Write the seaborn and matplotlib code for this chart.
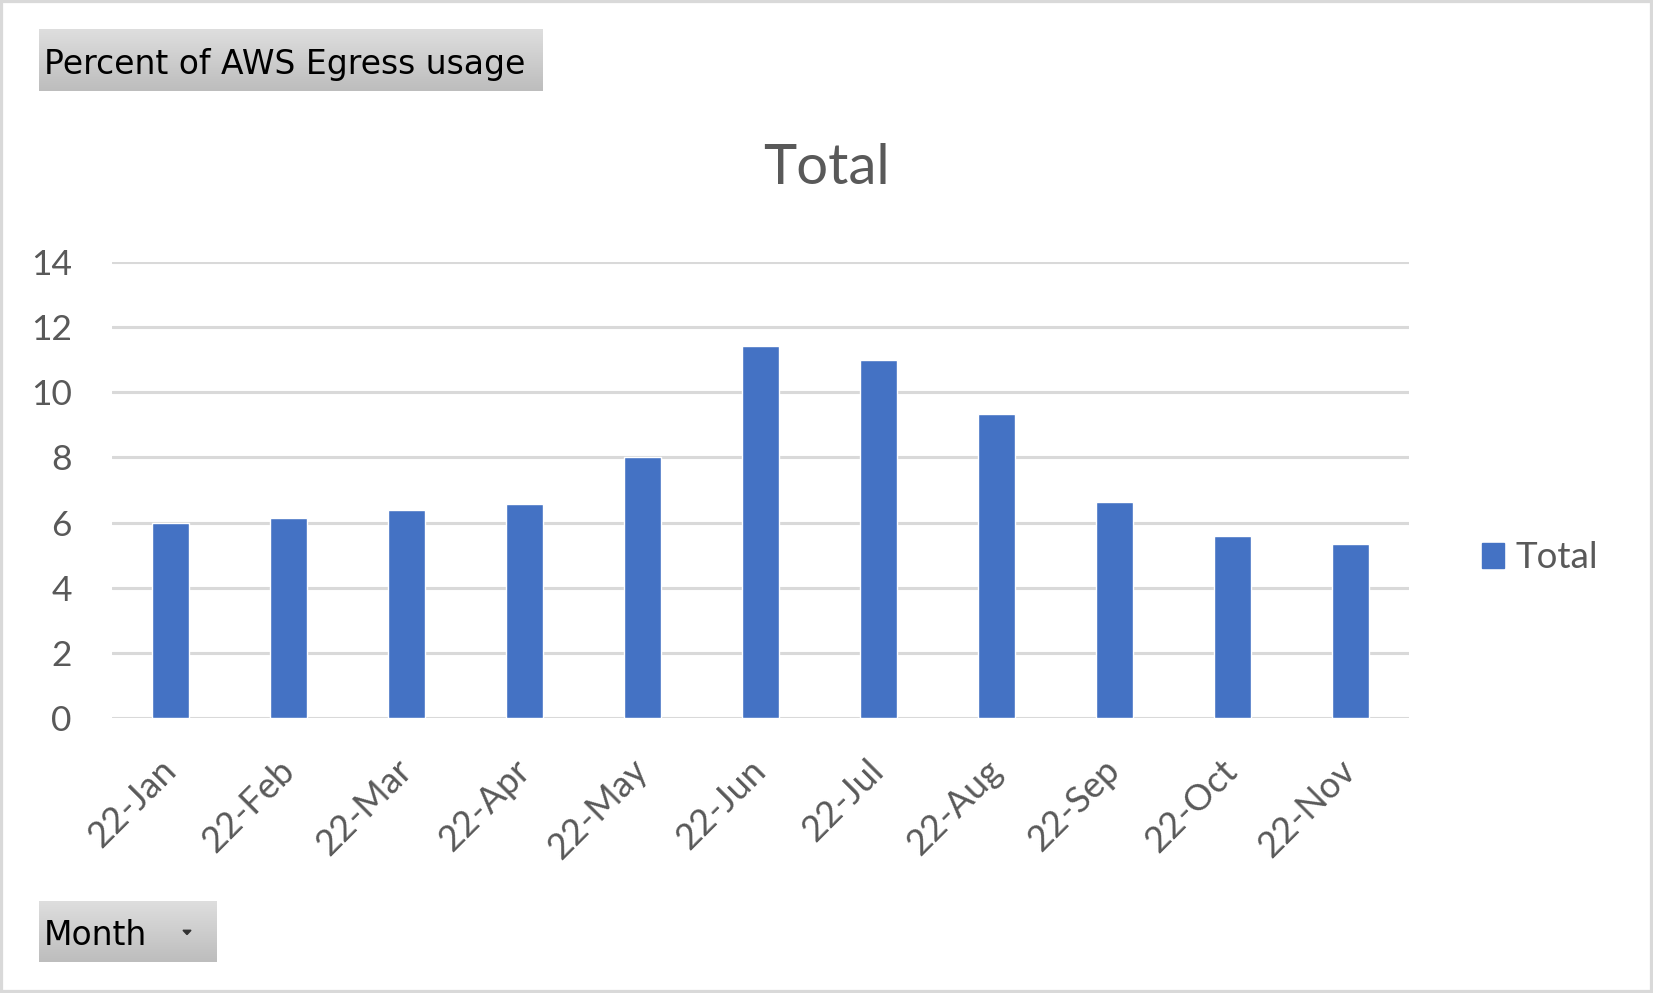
import numpy as np
import matplotlib
matplotlib.use("Agg")
import matplotlib.pyplot as plt
import seaborn as sns
from matplotlib.patches import Rectangle, Polygon

# data
months = ["22-Jan", "22-Feb", "22-Mar", "22-Apr", "22-May", "22-Jun",
          "22-Jul", "22-Aug", "22-Sep", "22-Oct", "22-Nov"]
totals = [6.0, 6.14, 6.39, 6.57, 8.02, 11.42, 10.99, 9.34, 6.63, 5.60, 5.35]
yticks = [0, 2, 4, 6, 8, 10, 12, 14]
series_name = "Total"
button_title = "Percent of AWS Egress usage"
button_field = "Month"

BAR = "#4472C4"
GRID = "#d9d9d9"
TXT = "#595959"

sns.set_theme(style="white")
plt.rcParams["font.family"] = ["Lato", "DejaVu Sans"]

W, H = 1653, 993
fig = plt.figure(figsize=(W / 100, H / 100), dpi=100)
fig.patch.set_facecolor("white")

# plot area in pixel coordinates of the reference
x0, x1, y0, y1 = 112, 1409, 262, 718
ax = fig.add_axes([x0 / W, 1 - y1 / H, (x1 - x0) / W, (y1 - y0) / H])

sns.barplot(x=months, y=totals, color=BAR, saturation=1, width=0.314,
            ax=ax, label=series_name)

ax.set_ylim(0, 14)
ax.set_yticks(yticks)
ax.yaxis.grid(True, color=GRID, linewidth=2.2)
ax.set_axisbelow(True)
for s in ax.spines.values():
    s.set_visible(False)
ax.set_xlabel("")
ax.set_ylabel("")
ax.tick_params(axis="y", length=0, pad=29, labelsize=25.5, labelcolor=TXT)
ax.tick_params(axis="x", length=0, pad=34, labelsize=26, labelcolor=TXT)
plt.setp(ax.get_xticklabels(), rotation=45, ha="right", va="center",
         rotation_mode="anchor")
if ax.get_legend() is not None:
    ax.get_legend().remove()

fig.text(826 / W, 1 - 168 / H, "Total", ha="center", va="center",
         fontsize=40.5, color=TXT)

# legend on the right
handles = [Rectangle((0, 0), 1, 1, color=BAR)]
fig.legend(handles, [series_name], loc="center left",
           bbox_to_anchor=(1482 / W, 1 - 558 / H), frameon=False,
           fontsize=26.5, labelcolor=TXT, borderpad=0, borderaxespad=0,
           handlelength=0.6, handleheight=0.64, handletextpad=0.3)

# pivot field buttons (grey gradient boxes)
grad = np.linspace(0, 1, 64).reshape(-1, 1)
btn_cmap = matplotlib.colors.LinearSegmentedColormap.from_list(
    "btn", ["#dedede", "#bdbdbd"])


def field_button(px, py, pw, ph, label, arrow=False):
    bax = fig.add_axes([px / W, 1 - (py + ph) / H, pw / W, ph / H])
    bax.imshow(grad, aspect="auto", cmap=btn_cmap, extent=[0, 1, 0, 1])
    bax.set_xlim(0, 1)
    bax.set_ylim(0, 1)
    bax.axis("off")
    bax.text(5 / pw, 0.43, label, ha="left", va="center", fontsize=23.8,
             color="black", family="DejaVu Sans")
    if arrow:
        ax_ = 148 / pw
        bax.add_patch(Polygon([[ax_ - 4 / pw, 0.52], [ax_ + 4 / pw, 0.52],
                               [ax_, 0.45]], closed=True, color="#333333"))
    return bax


field_button(39, 29, 504, 62, button_title)
field_button(39, 901, 177, 61, button_field, arrow=True)

# outer chart border
fig.patches.append(Rectangle((0, 0), 1, 1, transform=fig.transFigure,
                             fill=False, edgecolor=GRID, linewidth=4.5))

fig.savefig("out.png", dpi=100)
